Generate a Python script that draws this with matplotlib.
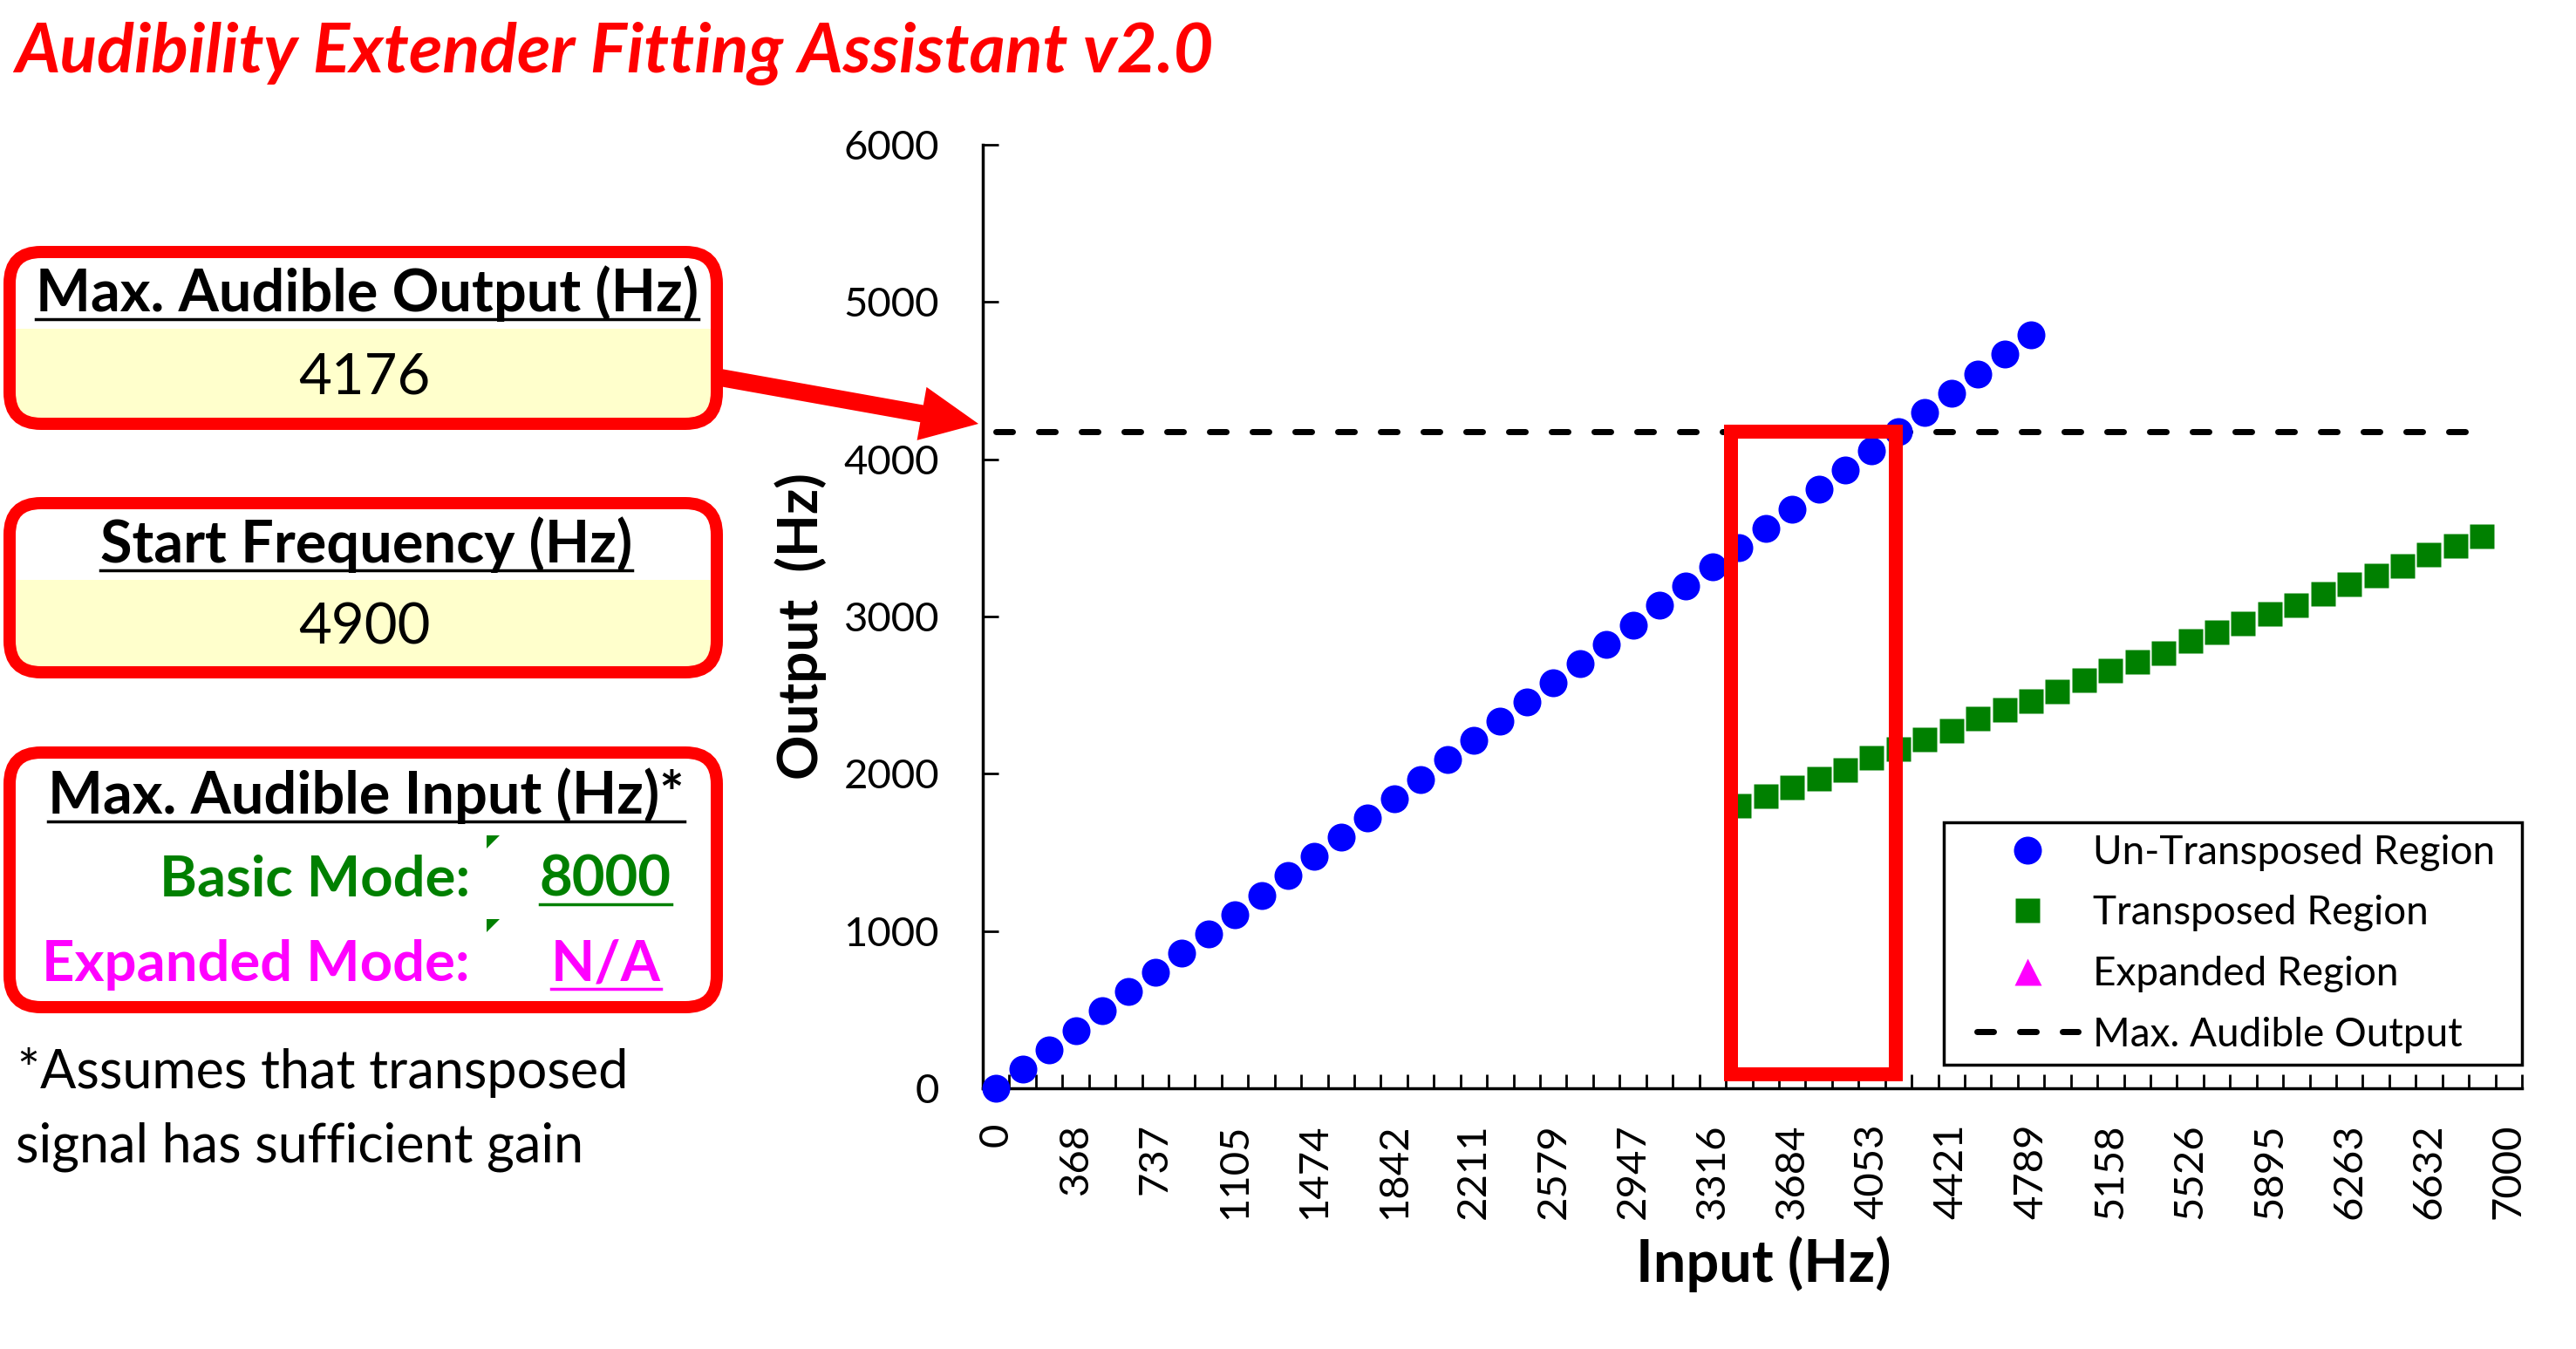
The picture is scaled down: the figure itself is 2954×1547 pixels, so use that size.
import matplotlib
matplotlib.use('Agg')
import matplotlib.pyplot as plt
import numpy as np
from matplotlib.patches import FancyBboxPatch, Rectangle, FancyArrow, Polygon
from matplotlib.lines import Line2D

plt.rcParams['font.family'] = ['Lato', 'DejaVu Sans']
plt.rcParams['lines.scale_dashes'] = False

# input frequency categories (Hz)
input_hz = [0, 123, 246, 368, 491, 614, 737, 860, 982, 1105, 1228, 1351, 1474, 1596,
            1719, 1842, 1965, 2088, 2211, 2333, 2456, 2579, 2702, 2825, 2947, 3070,
            3193, 3316, 3439, 3561, 3684, 3807, 3930, 4053, 4175, 4298, 4421, 4544,
            4667, 4789, 4912, 5035, 5158, 5281, 5404, 5526, 5649, 5772, 5895, 6018,
            6140, 6263, 6386, 6509, 6632, 6754, 6877, 7000]
tick_labels = ['0', '368', '737', '1105', '1474', '1842', '2211', '2579', '2947', '3316',
               '3684', '4053', '4421', '4789', '5158', '5526', '5895', '6263', '6632', '7000']

# un-transposed region: output equals input
untransposed_out = [0, 123, 246, 368, 491, 614, 737, 860, 982, 1105, 1228, 1351, 1474,
                    1596, 1719, 1842, 1965, 2088, 2211, 2333, 2456, 2579, 2702, 2825,
                    2947, 3070, 3193, 3316, 3439, 3561, 3684, 3807, 3930, 4053, 4175,
                    4298, 4421, 4544, 4667, 4789]

# transposed region
transposed_in = [3439, 3561, 3684, 3807, 3930, 4053, 4175, 4298, 4421, 4544, 4667, 4789,
                 4912, 5035, 5158, 5281, 5404, 5526, 5649, 5772, 5895, 6018, 6140, 6263,
                 6386, 6509, 6632, 6754, 6877]
transposed_out = [1797, 1858, 1913, 1969, 2024, 2102, 2157, 2218, 2274, 2351, 2407, 2462,
                  2523, 2595, 2656, 2712, 2767, 2845, 2900, 2956, 3017, 3072, 3144, 3205,
                  3260, 3321, 3394, 3449, 3510]

# expanded region (none: N/A)
expanded_in = []
expanded_out = []

max_audible_output = 4176
start_frequency = 4900
basic_mode_input = '8000'
expanded_mode_input = 'N/A'

W, H = 2954, 1547
fig = plt.figure(figsize=(W / 100, H / 100), dpi=100)


def fx(x):
    return x / W


def fy(y):
    return 1 - y / H


def px2pt(v):
    return v * 72 / 100


# ---------------- chart ----------------
ax = fig.add_axes([fx(1127), fy(1248), (2892 - 1127) / W, (1248 - 166) / H])
pos = np.arange(len(input_hz))

ax.plot(pos[:len(untransposed_out)], untransposed_out, 'o', color='#0000FF',
        ms=px2pt(32), mec='none', clip_on=False, zorder=3, label='Un-Transposed Region')
tr_pos = [input_hz.index(f) for f in transposed_in]
ax.plot(tr_pos, transposed_out, 's', color='#008000', ms=px2pt(28), mec='none',
        clip_on=False, zorder=3, label='Transposed Region')
ax.plot([input_hz.index(f) for f in expanded_in], expanded_out, '^', color='#FF00FF',
        ms=px2pt(31), mec='none', zorder=3, label='Expanded Region')
line_pos = pos[:-1]
ax.plot(line_pos, [max_audible_output] * len(line_pos), color='black', lw=px2pt(7),
        dashes=(px2pt(19), px2pt(30)), dash_capstyle='round', zorder=2,
        label='Max. Audible Output')

# highlight box
ax.add_patch(Rectangle((27.7, 90), 6.2, max_audible_output - 90, fill=False,
                       ec='#FF0000', lw=px2pt(16), zorder=4, clip_on=False))

ax.set_xlim(-0.5, len(input_hz) - 0.5)
ax.set_ylim(0, 6000)
ax.set_yticks(np.arange(0, 6001, 1000))
ax.set_xticks(pos[::3])
ax.set_xticklabels(tick_labels, rotation=90)
ax.set_xticks(np.arange(-0.5, len(input_hz), 1), minor=True)
ax.tick_params(axis='x', which='major', length=0, pad=px2pt(40), labelsize=34)
ax.tick_params(axis='x', which='minor', direction='in', length=px2pt(16), width=2)
ax.tick_params(axis='y', direction='in', length=px2pt(18), width=2, pad=px2pt(50),
               labelsize=34)
for s in ['top', 'right']:
    ax.spines[s].set_visible(False)
for s in ['left', 'bottom']:
    ax.spines[s].set_linewidth(2.5)

fig.text(fx(2022), fy(1470), 'Input (Hz)', ha='center', va='baseline',
         fontsize=48, fontweight='bold')
fig.text(fx(918), fy(718), 'Output  (Hz)', ha='center', va='center', rotation=90,
         fontsize=46, fontweight='bold')

# legend with separate frame
fig.patches.append(Rectangle((fx(2229), fy(1221)), fx(2892 - 2229), (1221 - 943) / H,
                             transform=fig.transFigure, fill=False, ec='black',
                             lw=2.5, zorder=5))
leg = ax.legend(loc='upper left', bbox_to_anchor=(fx(2267), fy(957)),
                bbox_transform=fig.transFigure, frameon=False, borderpad=0,
                borderaxespad=0, fontsize=33, handlelength=2.54,
                handletextpad=0.37, labelspacing=0.6, numpoints=1)

# ---------------- left panels ----------------
fig.text(fx(17), fy(83), 'Audibility Extender Fitting Assistant v2.0', color='#FF0000',
         fontsize=57, fontweight='bold', style='italic', va='baseline')


def panel(x0, y0, x1, y1, band=None):
    lw = 14
    if band is not None:
        fig.patches.append(Rectangle((fx(x0 + lw), fy(band[1])), (x1 - x0 - 2 * lw) / W,
                                     (band[1] - band[0]) / H, transform=fig.transFigure,
                                     fc='#FFFFCC', ec='none', zorder=1))
    fig.patches.append(FancyBboxPatch(((x0 + lw / 2) / 100, (H - y1 + lw / 2) / 100),
                                      (x1 - x0 - lw) / 100, (y1 - y0 - lw) / 100,
                                      boxstyle='round,pad=0,rounding_size=0.36',
                                      transform=fig.dpi_scale_trans, fill=False,
                                      ec='#FF0000', lw=px2pt(lw), zorder=2))


panel(4, 282, 829, 493, band=(377, 479))
panel(4, 570, 829, 778, band=(665, 764))
panel(4, 856, 829, 1162)

hsize = 48
underlined = []
t = fig.text(fx(421), fy(357), 'Max. Audible Output (Hz)', ha='center', va='baseline',
             fontsize=hsize, fontweight='bold')
underlined.append((t, 357, 'black'))
fig.text(fx(418), fy(452), str(max_audible_output), ha='center', va='baseline', fontsize=47)

t = fig.text(fx(420), fy(645), 'Start Frequency (Hz)', ha='center', va='baseline',
             fontsize=hsize, fontweight='bold')
underlined.append((t, 645, 'black'))
fig.text(fx(418), fy(738), str(start_frequency), ha='center', va='baseline', fontsize=47)

t = fig.text(fx(420), fy(933), 'Max. Audible Input (Hz)*', ha='center', va='baseline',
             fontsize=hsize, fontweight='bold')
underlined.append((t, 933, 'black'))
fig.text(fx(539), fy(1028), 'Basic Mode:', ha='right', va='baseline', fontsize=47,
         fontweight='bold', color='#008000')
t = fig.text(fx(694), fy(1028), basic_mode_input, ha='center', va='baseline', fontsize=47,
             fontweight='bold', color='#008000')
underlined.append((t, 1028, '#008000'))
fig.text(fx(539), fy(1125), 'Expanded Mode:', ha='right', va='baseline', fontsize=47,
         fontweight='bold', color='#FF00FF')
t = fig.text(fx(695), fy(1125), expanded_mode_input, ha='center', va='baseline',
             fontsize=47, fontweight='bold', color='#FF00FF')
underlined.append((t, 1125, '#FF00FF'))

# small green cell-corner marks
for yy in (958, 1054):
    fig.patches.append(Polygon([(fx(558), fy(yy)), (fx(573), fy(yy)), (fx(558), fy(yy + 15))],
                               closed=True, transform=fig.transFigure, fc='#008000',
                               ec='none', zorder=3))

fig.text(fx(20), fy(1248), '*Assumes that transposed', va='baseline', fontsize=44)
fig.text(fx(18), fy(1333), 'signal has sufficient gain', va='baseline', fontsize=44)

# arrow from panel to max output level
fig.patches.append(FancyArrow(826 / 100, (H - 433) / 100, (1122 - 826) / 100,
                              (433 - 486) / 100, width=0.2, head_width=0.62,
                              head_length=0.66, length_includes_head=True,
                              transform=fig.dpi_scale_trans, fc='#FF0000', ec='none',
                              zorder=3))

fig.canvas.draw()
renderer = fig.canvas.get_renderer()
for t, base, col in underlined:
    bb = t.get_window_extent(renderer)
    fig.add_artist(Line2D([fx(bb.x0), fx(bb.x1)], [fy(base + 9), fy(base + 9)],
                          transform=fig.transFigure, color=col, lw=2.5))

fig.savefig('out.png', dpi=100)
